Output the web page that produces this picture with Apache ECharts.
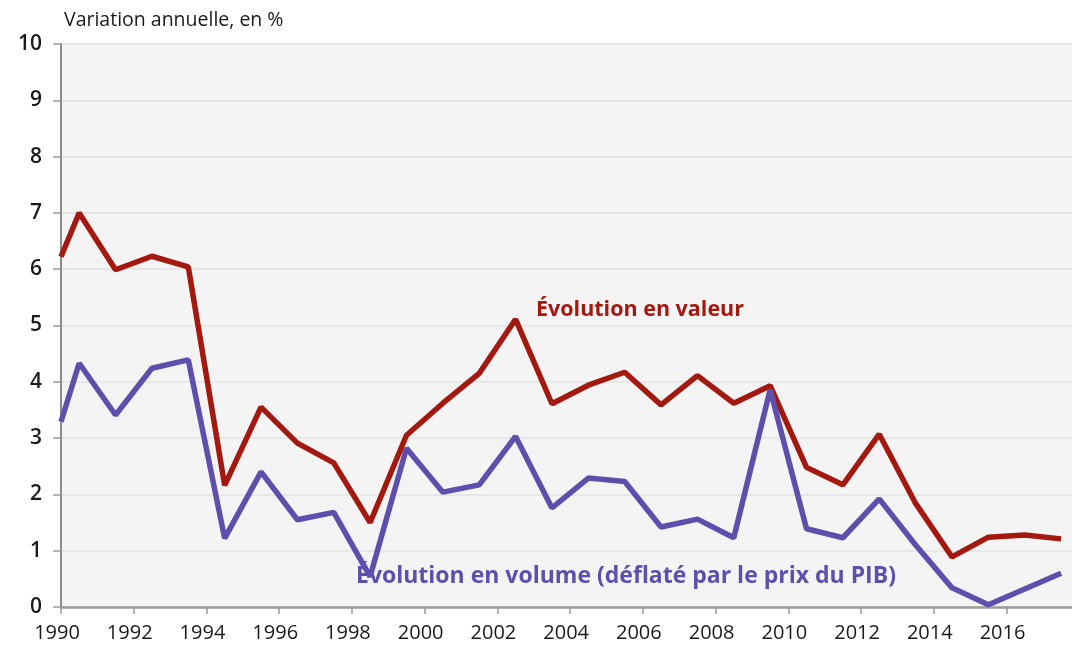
<!DOCTYPE html>
<html>
<head>
<meta charset="utf-8">
<script src="https://cdn.jsdelivr.net/npm/echarts@6/dist/echarts.min.js"></script>
<style>
  html, body { margin: 0; padding: 0; background: #fff; }
  #chart { width: 1072px; height: 650px; }
</style>
</head>
<body>
<div id="chart"></div>
<script>
// années (chaque point est placé au milieu de l'année)
const years = [1990, 1991, 1992, 1993, 1994, 1995, 1996, 1997, 1998, 1999,
  2000, 2001, 2002, 2003, 2004, 2005, 2006, 2007, 2008, 2009,
  2010, 2011, 2012, 2013, 2014, 2015, 2016, 2017];
// évolution en valeur, %
const valeur = [7.0, 5.99, 6.23, 6.04, 2.16, 3.55, 2.91, 2.56, 1.5, 3.05,
  3.62, 4.15, 5.11, 3.61, 3.94, 4.17, 3.59, 4.11, 3.62, 3.93,
  2.48, 2.17, 3.07, 1.84, 0.89, 1.24, 1.28, 1.21];
// évolution en volume (déflaté par le prix du PIB), %
const volume = [4.33, 3.41, 4.24, 4.39, 1.22, 2.4, 1.55, 1.68, 0.54, 2.82,
  2.04, 2.17, 3.03, 1.76, 2.29, 2.23, 1.42, 1.56, 1.23, 3.86,
  1.39, 1.23, 1.92, 1.1, 0.34, 0.04, 0.32, 0.6];
// valeur des courbes au bord gauche de l'axe (début 1990)
const valeurStart = 6.22;
const volumeStart = 3.29;
const xTicks = [1990, 1992, 1994, 1996, 1998, 2000, 2002, 2004, 2006, 2008, 2010, 2012, 2014, 2016];

const RED = '#a3190f';
const BLUE = '#5d4fab';
const FONT = '"Open Sans", "Noto Sans", sans-serif';

const toPoints = (start, arr) => [[years[0], start]].concat(arr.map((v, i) => [years[i] + 0.5, v]));

const chart = echarts.init(document.getElementById('chart'));
chart.setOption({
  animation: false,
  backgroundColor: '#fff',
  grid: {
    left: 61, right: 0, top: 44, bottom: 43,
    show: true,
    backgroundColor: '#f4f4f4',
    borderWidth: 0
  },
  xAxis: {
    type: 'value',
    min: 1990,
    max: 2017.8,
    axisLine: { show: true, lineStyle: { color: '#9a9a9a', width: 2.5 } },
    axisTick: { show: true, length: 7, customValues: xTicks, lineStyle: { color: '#9a9a9a', width: 1.5 } },
    axisLabel: {
      customValues: xTicks,
      formatter: v => String(v),
      fontSize: 20, color: '#1a1a1a', fontFamily: FONT,
      margin: 16, padding: [0, 8, 0, 0]
    },
    splitLine: { show: false }
  },
  yAxis: {
    type: 'value',
    min: 0, max: 10, interval: 1,
    axisLine: { show: true, lineStyle: { color: '#8a8a8a', width: 2 } },
    axisTick: { show: true, length: 8, lineStyle: { color: '#9a9a9a', width: 1.5 } },
    axisLabel: { fontSize: 21, color: '#1a1a1a', fontFamily: FONT, fontWeight: 600, margin: 19 },
    splitLine: { show: true, lineStyle: { color: '#e3e3e3', width: 1.5 } }
  },
  series: [
    {
      name: 'Évolution en valeur',
      type: 'line',
      data: toPoints(valeurStart, valeur),
      symbol: 'none',
      lineStyle: { color: RED, width: 5.5 },
      z: 3
    },
    {
      name: 'Évolution en volume (déflaté par le prix du PIB)',
      type: 'line',
      data: toPoints(volumeStart, volume),
      symbol: 'none',
      lineStyle: { color: BLUE, width: 5.5 },
      z: 4
    }
  ],
  graphic: [
    {
      type: 'text', left: 64, top: 10,
      style: { text: 'Variation annuelle, en %', fontSize: 19.5, fill: '#1a1a1a', fontFamily: FONT }
    },
    {
      type: 'text', left: 536, top: 299,
      style: { text: 'Évolution en valeur', fontSize: 21.5, fontWeight: 'bold', fill: RED, fontFamily: FONT }
    },
    {
      type: 'text', left: 356, top: 565,
      style: { text: 'Évolution en volume (déflaté par le prix du PIB)', fontSize: 23, fontWeight: 'bold', fill: BLUE, fontFamily: FONT }
    }
  ]
});
</script>
</body>
</html>
